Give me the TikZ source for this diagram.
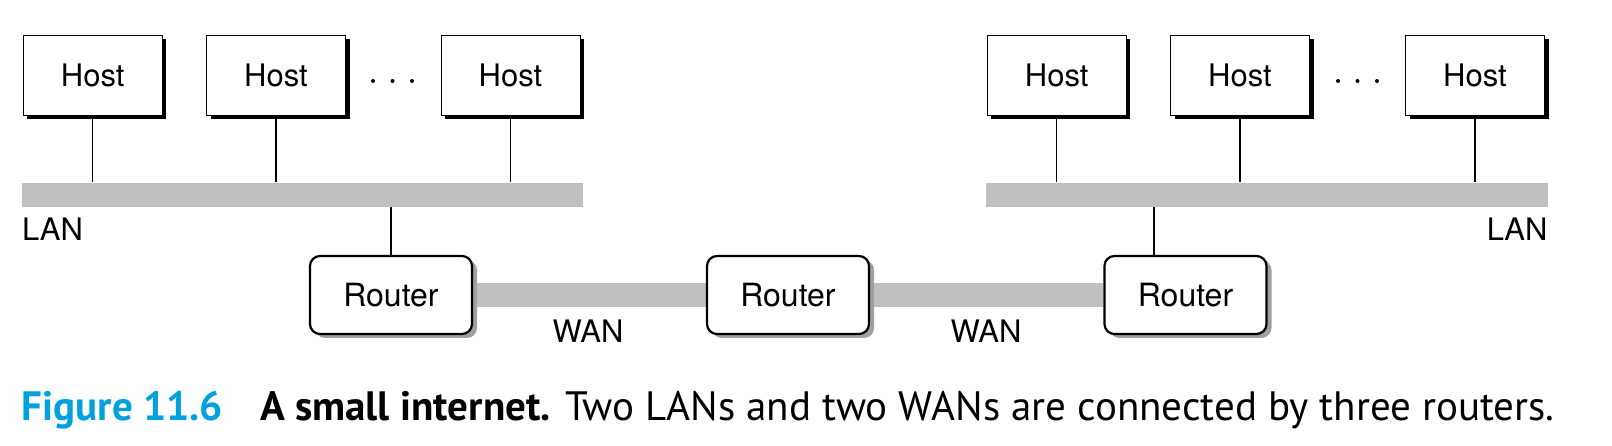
\documentclass[tikz,border=0pt]{standalone}
\usepackage{fontspec}
\setsansfont{TeX Gyre Heros}
\newfontfamily\captionfont{PT Sans}
\usetikzlibrary{backgrounds}
\definecolor{bargray}{RGB}{192,192,192}
\definecolor{shadegray}{RGB}{160,160,160}
\definecolor{figblue}{RGB}{0,161,222}
\begin{document}
\begin{tikzpicture}[x=1pt,y=-1pt,
    hostbox/.style={draw=black,line width=1pt,fill=white,minimum width=139pt,minimum height=80pt,
        font=\sffamily\fontsize{31}{37}\selectfont},
    routerbox/.style={draw=black,line width=2.2pt,rounded corners=10pt,fill=white,
        minimum width=162pt,minimum height=78pt,font=\sffamily\fontsize{32}{38}\selectfont},
    lanbar/.style={draw=none,fill=bargray,inner sep=0pt,minimum height=24pt},
    wanbar/.style={draw=bargray,line width=24pt},
    wire/.style={line width=1.2pt},
    netlabel/.style={font=\sffamily\fontsize{31}{37}\selectfont,inner sep=0pt}]
    \useasboundingbox (0,0) rectangle (1612,446);
    % shadows
    \foreach \x in {92.7,276,510.5,1056.7,1240,1475}{
        \fill[black] (\x-65.5,39.5) rectangle (\x+73.5,119.5);
    }
    \foreach \x in {391,788,1185.5}{
        \fill[shadegray,rounded corners=10pt] (\x-76,260) rectangle (\x+86,338);
    }
    % hosts
    \node[hostbox] (hL1) at (92.7,75.5) {Host};
    \node[hostbox] (hL2) at (276,75.5) {Host};
    \node[hostbox] (hL3) at (510.5,75.5) {Host};
    \node[hostbox] (hR1) at (1056.7,75.5) {Host};
    \node[hostbox] (hR2) at (1240,75.5) {Host};
    \node[hostbox] (hR3) at (1475,75.5) {Host};
    \foreach \x in {373,392.5,412,1338,1357.5,1377}{
        \fill (\x,81) circle (2pt);
    }
    % LANs
    \node[lanbar,minimum width=561.6pt] (lanL) at (302.5,194.7) {};
    \node[lanbar,minimum width=561.7pt] (lanR) at (1266.85,194.7) {};
    \foreach \h in {hL1,hL2,hL3}{
        \draw[wire] (\h.south) -- (\h.south |- lanL.north);
    }
    \foreach \h in {hR1,hR2,hR3}{
        \draw[wire] (\h.south) -- (\h.south |- lanR.north);
    }
    % routers
    \node[routerbox] (rL) at (391,295) {Router};
    \node[routerbox] (rM) at (788,295) {Router};
    \node[routerbox] (rR) at (1185.5,295) {Router};
    \draw[wire] (rL.north) -- (rL.north |- lanL.south);
    \draw[wire] ([xshift=-31.5pt]rR.north) -- ([xshift=-31.5pt]rR.north |- lanR.south);
    % WANs
    \begin{scope}[on background layer]
        \draw[wanbar] (rL.east) -- (rM.west);
        \draw[wanbar] (rM.east) -- (rR.west);
    \end{scope}
    \node[netlabel,anchor=base west] (lanLlabel) at (22,240.7) {LAN};
    \node[netlabel,anchor=base east] (lanRlabel) at (1547.7,240.7) {LAN};
    \node[netlabel,anchor=base] (wanLlabel) at (588,342) {WAN};
    \node[netlabel,anchor=base] (wanRlabel) at (986,342) {WAN};
    % caption
    \node[anchor=base west,inner sep=0pt,font=\captionfont\fontsize{41}{49}\selectfont] (caption) at (21.7,420.7)
        {\textcolor{figblue}{\bfseries Figure 11.6}\hspace{0.9em}\textbf{A small internet.} Two LANs and two WANs are connected by three routers.};
\end{tikzpicture}
\end{document}
